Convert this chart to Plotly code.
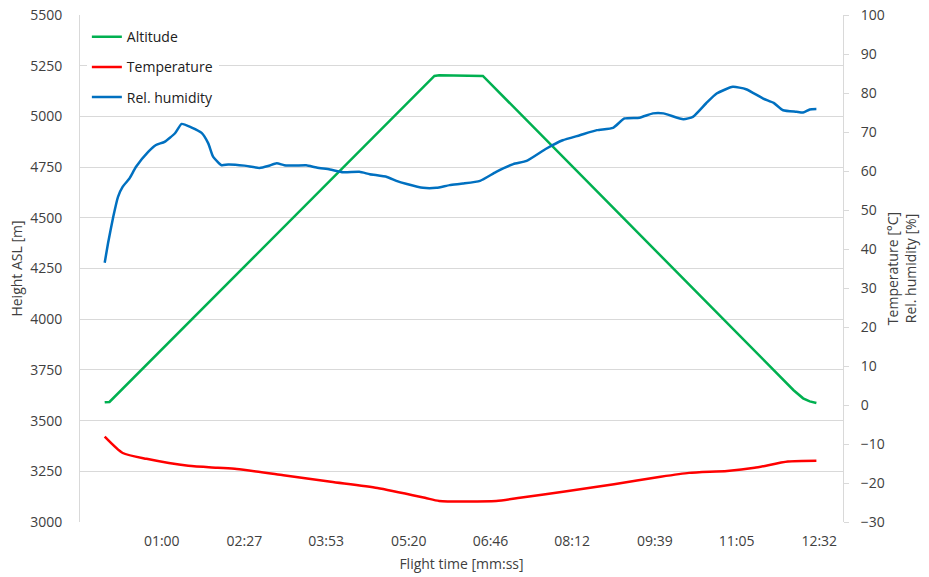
import plotly.graph_objects as go

# Flight time in seconds
alt_t = [0, 5, 347, 352, 398, 725, 735, 742, 749]
alt_v = [3590, 3592, 5200, 5203, 5200, 3650, 3610, 3595, 3587]

temp_t = [0, 19, 44, 88, 119, 139, 188, 238, 287, 337, 352, 412, 437, 486, 536, 585, 615, 655, 684, 719, 749]
temp_v = [-8.1, -12.3, -13.8, -15.6, -16.1, -16.4, -18.0, -19.7, -21.3, -23.8, -24.6, -24.6, -23.8, -22.1, -20.3, -18.4, -17.4, -16.9, -16.1, -14.5, -14.3]

hum_t = [0, 3.5, 9, 14, 19, 26, 33, 46, 54, 63, 74, 81, 91, 102, 109, 114, 123, 130, 147, 163, 172, 181, 189, 200,
         212, 223, 237, 251, 268, 279, 297, 307, 318, 335, 349, 363, 377, 395, 412, 430, 444, 465, 482, 500, 518,
         535, 547, 563, 577, 588, 609, 619, 633, 644, 661, 675, 693, 704, 714, 728, 735, 742, 749]
hum_v = [36.5, 41.5, 48.3, 53.4, 56.0, 58.1, 61.1, 65.0, 66.7, 67.5, 69.7, 72.1, 71.2, 69.8, 67.1, 63.7, 61.5, 61.7, 61.4, 60.8, 61.3, 62.0, 61.5, 61.4,
         61.5, 60.9, 60.4, 59.7, 59.8, 59.2, 58.5, 57.5, 56.7, 55.7, 55.7, 56.4, 56.8, 57.5, 59.8, 61.8, 62.6, 65.8, 67.9, 69.2, 70.5,
         71.1, 73.5, 73.7, 74.8, 74.8, 73.3, 73.9, 77.4, 79.9, 81.6, 81.0, 78.6, 77.5, 75.6, 75.2, 75.0, 75.8, 75.9]

tick_secs = [60, 147, 233, 320, 406, 492, 579, 665, 752]
tick_text = ["01:00", "02:27", "03:53", "05:20", "06:46", "08:12", "09:39", "11:05", "12:32"]

FONT = "Open Sans"
TXT = "#404040"
GRID = "#D9D9D9"

fig = go.Figure()
fig.add_trace(go.Scatter(x=alt_t, y=alt_v, name="Altitude", mode="lines",
                         line=dict(color="#00B050", width=2.5), legendgroup="a"))
fig.add_trace(go.Scatter(x=temp_t, y=temp_v, name="Temperature", mode="lines", yaxis="y2",
                         line=dict(color="#FF0000", width=2.5, shape="spline", smoothing=0.6), legendgroup="b"))
fig.add_trace(go.Scatter(x=hum_t, y=hum_v, name="Rel. humidity", mode="lines", yaxis="y2",
                         line=dict(color="#0070C0", width=2.5, shape="spline", smoothing=0.5), legendgroup="c"))

fig.update_layout(
    width=929, height=577,
    margin=dict(l=80, r=86, t=15, b=55, autoexpand=False),
    paper_bgcolor="white", plot_bgcolor="white",
    font=dict(family=FONT, size=14, color=TXT),
    showlegend=True,
    legend=dict(x=0.009, y=0.988, xanchor="left", yanchor="top", bgcolor="white",
                font=dict(family=FONT, size=14, color="#202020"),
                tracegroupgap=9, itemwidth=30),
    xaxis=dict(range=[-26, 777], tickmode="array", tickvals=tick_secs, ticktext=tick_text,
               showgrid=False, zeroline=False, showline=False, ticks="", automargin=False,
               tickfont=dict(size=14, color=TXT), ticklabelstandoff=9,
               title=dict(text="Flight time [mm:ss]", font=dict(size=14, color=TXT), standoff=10)),
    yaxis=dict(range=[3000, 5500.5], dtick=250, tick0=3000, showgrid=True, gridcolor=GRID, gridwidth=1,
               zeroline=False, showline=True, linecolor=GRID, linewidth=1, ticks="", automargin=False,
               tickfont=dict(size=14, color=TXT), ticklabelstandoff=14, ticklabeloverflow="allow",
               title=dict(text="Height ASL [m]", font=dict(size=14, color=TXT), standoff=4)),
    yaxis2=dict(range=[-30, 100.03], dtick=10, tick0=-30, overlaying="y", side="right", showgrid=False,
                zeroline=False, showline=True, linecolor=GRID, linewidth=1, ticks="outside", automargin=False,
                ticklen=5, tickcolor=GRID, tickfont=dict(size=14, color=TXT), ticklabelstandoff=9,
                ticklabeloverflow="allow",
                title=dict(text="Temperature [°C]<br>Rel. humidity [%]", font=dict(size=14, color=TXT), standoff=4)),
)

fig.write_html("out.html", config={"displayModeBar": False},
               post_script="document.body.style.margin='0';")
